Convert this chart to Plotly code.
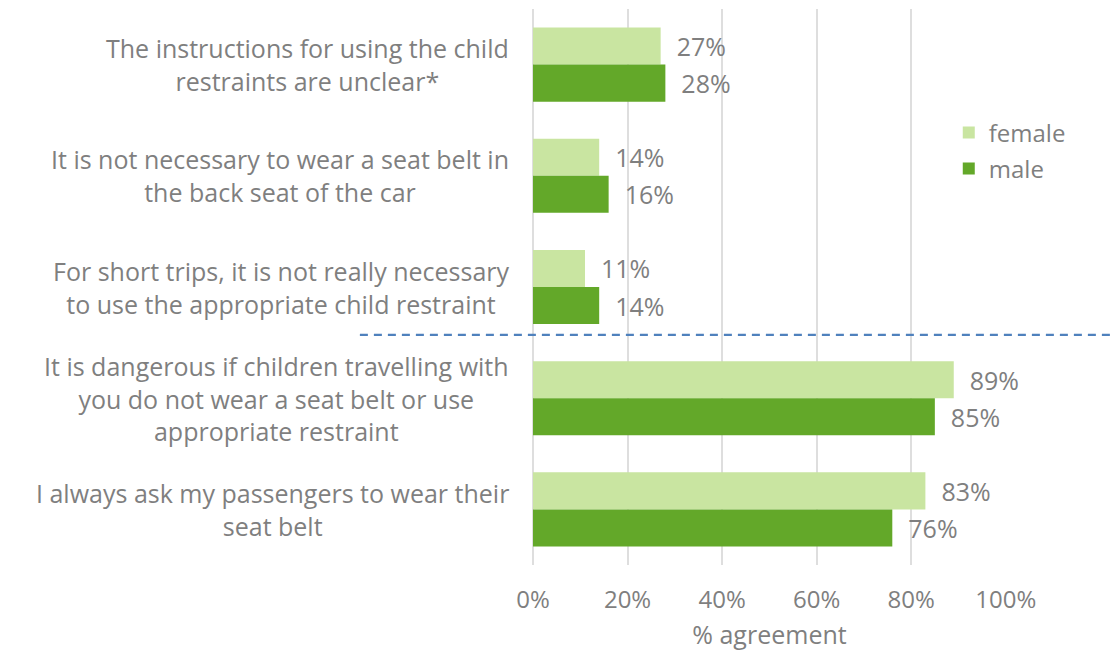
import plotly.graph_objects as go

# Survey statements (top to bottom) and share of respondents agreeing
statements = [
    "The instructions for using the child<br>restraints are unclear*",
    "It is not necessary to wear a seat belt in<br>the back seat of the car",
    "For short trips, it is not really necessary<br>to use the appropriate child restraint",
    "It is dangerous if children travelling with<br>you do not wear a seat belt or use<br>appropriate restraint",
    "I always ask my passengers to wear their<br>seat belt",
]
female = [0.27, 0.14, 0.11, 0.89, 0.83]
male = [0.28, 0.16, 0.14, 0.85, 0.76]
x_ticks = [0, 0.2, 0.4, 0.6, 0.8, 1.0]

GREY = "#7F7F7F"
FONT = "Open Sans"
LIGHT_GREEN = "#C9E5A1"
DARK_GREEN = "#63A829"

fig = go.Figure()
for name, vals, col, grp in [("female", female, LIGHT_GREEN, "f"), ("male", male, DARK_GREEN, "m")]:
    fig.add_trace(go.Bar(
        name=name,
        y=statements,
        x=vals,
        orientation="h",
        marker=dict(color=col, line=dict(width=0)),
        texttemplate="\u00a0\u00a0%{x:.0%}",
        textposition="outside",
        constraintext="none",
        cliponaxis=False,
        textfont=dict(family=FONT, size=25, color=GREY),
        legendgroup=grp,
    ))

# Statement labels, centred line by line and right-aligned as a block
for s in statements:
    fig.add_annotation(
        x=-0.0465, xref="paper", y=s, yref="y",
        text=s, showarrow=False, xanchor="right", yanchor="middle",
        align="center", font=dict(family=FONT, size=25, color=GREY),
    )

# Dashed separator between the two groups of statements
fig.add_shape(
    type="line", xref="paper", yref="paper",
    x0=-0.366, x1=1.23, y0=0.414, y1=0.414,
    line=dict(color="#4F81BD", width=2.2, dash="8px,6px"),
)

fig.update_layout(
    width=1111, height=654,
    margin=dict(l=533, r=105, t=9, b=87),
    paper_bgcolor="white", plot_bgcolor="white",
    barmode="group", bargap=0.334, bargroupgap=0,
    font=dict(family=FONT, color=GREY),
    legend=dict(
        x=0.879, y=0.745, xanchor="left", yanchor="middle",
        font=dict(family=FONT, size=24, color=GREY),
        bgcolor="rgba(0,0,0,0)", tracegroupgap=2,
    ),
    xaxis=dict(
        range=[0, 1.0005], tickvals=x_ticks, tickformat=".0%",
        showgrid=True, gridcolor="#DEDEDE", gridwidth=1.5,
        zeroline=True, zerolinecolor="#DEDEDE", zerolinewidth=1.5,
        showline=False, ticks="",
        tickfont=dict(family=FONT, size=24, color=GREY),
        ticklabelstandoff=18,
        title=dict(text="% agreement", standoff=12,
                   font=dict(family=FONT, size=25, color=GREY)),
    ),
    yaxis=dict(
        autorange="reversed", showticklabels=False, showgrid=False,
        zeroline=False, showline=False, ticks="",
    ),
)

fig.write_html("out.html")
